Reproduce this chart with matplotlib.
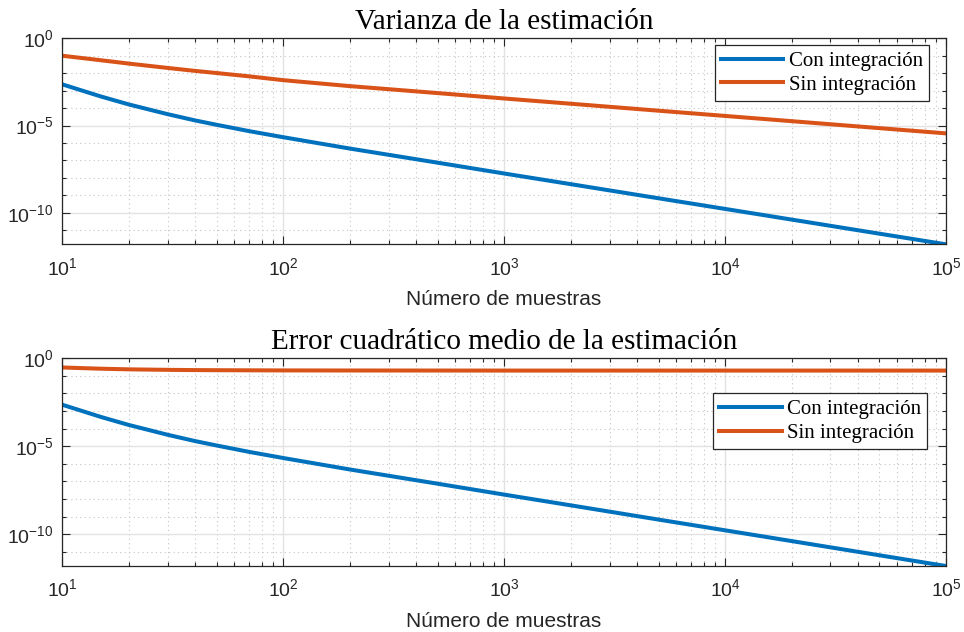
import numpy as np
import matplotlib
matplotlib.use("Agg")
import matplotlib.pyplot as plt
from matplotlib.ticker import FixedLocator, LogLocator, LogFormatterSciNotation, NullFormatter

plt.rcParams['font.family'] = ['Liberation Sans', 'DejaVu Sans']
plt.rcParams['mathtext.default'] = 'regular'
plt.rcParams['axes.unicode_minus'] = False

# numero de muestras y resultados de la simulacion
n_muestras = [10, 15, 20, 30, 40, 50, 70, 100, 200, 500,
              1000, 2000, 5000, 10000, 20000, 50000, 100000]

var_con = [2.29e-3, 4.57e-4, 1.62e-4, 4.47e-5, 1.95e-5, 1.10e-5, 4.79e-6, 2.14e-6, 4.79e-7, 7.41e-8,
           1.78e-8, 4.37e-9, 6.76e-10, 1.66e-10, 4.07e-11, 6.31e-12, 1.55e-12]
var_sin = [1.0e-1, 5.50e-2, 3.55e-2, 2.00e-2, 1.35e-2, 1.02e-2, 6.61e-3, 3.98e-3, 1.82e-3, 7.24e-4,
           3.55e-4, 1.78e-4, 7.08e-5, 3.55e-5, 1.78e-5, 7.08e-6, 3.55e-6]

ecm_con = var_con
ecm_sin = [0.30, 0.255, 0.235, 0.22, 0.213, 0.21, 0.207, 0.204, 0.202, 0.201,
           0.200, 0.200, 0.200, 0.200, 0.200, 0.200, 0.200]

etiquetas = ['Con integración', 'Sin integración']
titulos = ['Varianza de la estimación', 'Error cuadrático medio de la estimación']

azul = '#0072BD'
naranja = '#D95319'
gris = '#262626'

fig = plt.figure(figsize=(9.64, 6.32), dpi=100)
ax1 = fig.add_axes([0.0646, 0.6134, 0.9167, 0.3260])
ax2 = fig.add_axes([0.0646, 0.1044, 0.9167, 0.3287])

legend_pos = [(0.9808, 0.9675), (0.9788, 0.8315)]
series = [(var_con, var_sin), (ecm_con, ecm_sin)]

for ax, (con, sin), titulo, lpos in zip([ax1, ax2], series, titulos, legend_pos):
    ax.loglog(n_muestras, con, color=azul, lw=2.9, label=etiquetas[0])
    ax.loglog(n_muestras, sin, color=naranja, lw=2.9, label=etiquetas[1])
    ax.set_xlim(10, 1e5)
    ax.set_ylim(10**-11.81, 1)

    ax.yaxis.set_major_locator(FixedLocator([1, 1e-5, 1e-10]))
    ax.yaxis.set_major_formatter(LogFormatterSciNotation())
    ax.yaxis.set_minor_locator(FixedLocator([10.0**-k for k in range(1, 12) if k % 5]))
    ax.yaxis.set_minor_formatter(NullFormatter())
    ax.xaxis.set_major_locator(LogLocator(base=10))
    ax.xaxis.set_minor_locator(LogLocator(base=10, subs=np.arange(2, 10)))
    ax.xaxis.set_minor_formatter(NullFormatter())

    ax.set_axisbelow(True)
    ax.grid(True, which='major', color='#e2e2e2', lw=1.0, ls='-')
    ax.grid(True, which='minor', color='#c4c4c4', lw=0.8, ls=(0, (1, 3)))
    ax.tick_params(which='both', direction='in', top=True, right=True,
                   color=gris, labelcolor=gris, labelsize=14)
    ax.tick_params(which='major', length=6, width=0.8)
    ax.tick_params(which='minor', length=3, width=0.8)
    ax.tick_params(axis='x', pad=9)
    ax.tick_params(axis='y', pad=6)
    for s in ax.spines.values():
        s.set_color(gris)
        s.set_linewidth(0.9)

    ax.set_title(titulo, family='Liberation Serif', fontsize=21, pad=7)
    ax.set_xlabel('Número de muestras', fontsize=15, color=gris, labelpad=8)

    leg = ax.legend(loc='upper right', bbox_to_anchor=lpos, borderaxespad=0,
                    prop={'family': 'Liberation Serif', 'size': 15},
                    fancybox=False, framealpha=1, edgecolor=gris,
                    handlelength=3.0, handletextpad=0.25, borderpad=0.3,
                    labelspacing=0.2)
    leg.get_frame().set_linewidth(0.9)

fig.savefig('out.png', dpi=100)
